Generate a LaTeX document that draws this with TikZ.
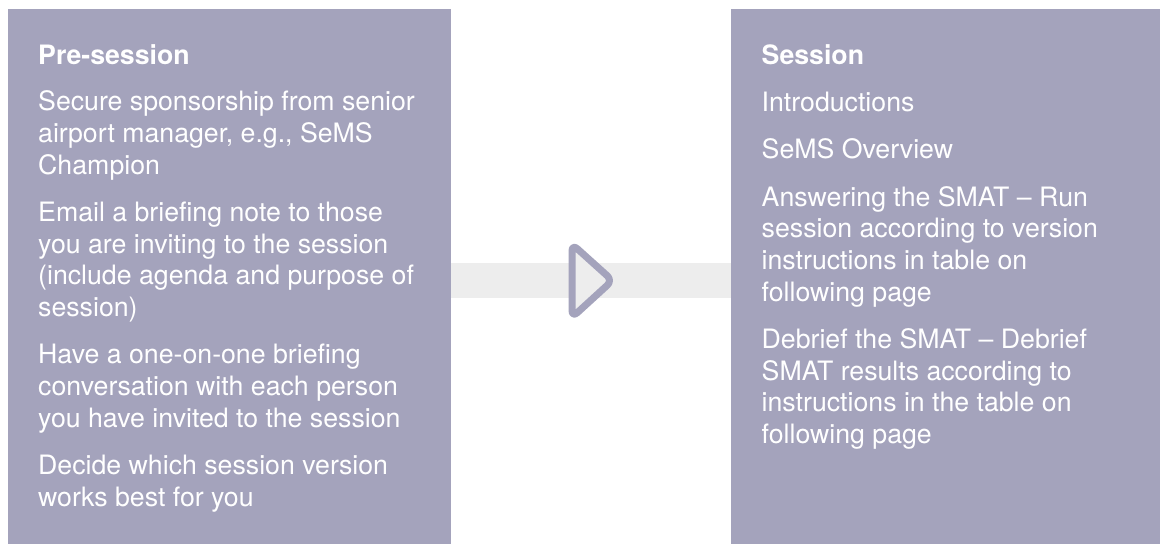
\documentclass[tikz,border=0pt]{standalone}
\usepackage{fontspec}
\setmainfont{TeX Gyre Heros}
\definecolor{panelc}{HTML}{A4A3BC}
\definecolor{bandc}{HTML}{EDEDED}
\definecolor{txtc}{HTML}{FFFFFF}
\newcommand\paralines[1]{\vtop{\halign{##\hfil\cr#1\crcr}}}
\tikzset{
  panel/.style={fill=panelc, draw=none, inner sep=0, anchor=north west},
  bandbox/.style={fill=bandc, draw=none, inner sep=0},
  tri/.style={draw=panelc, fill=bandc, line width=7pt, rounded corners=7pt, line join=round},
  txt/.style={anchor=base west, inner sep=0, text=txtc, font=\fontsize{26.7}{31.6}\selectfont},
  ttl/.style={txt, font=\fontsize{26.7}{31.6}\selectfont\bfseries}
}
\begin{document}
\begin{tikzpicture}[x=1pt,y=-1pt]
\useasboundingbox[fill=white] (0,0) rectangle (1160,548);
% panels
\node[panel, minimum width=443pt, minimum height=535pt] (pre) at (8,9) {};
\node[panel, minimum width=429pt, minimum height=535pt] (ses) at (731,9) {};
% connector band
\node[bandbox, minimum width=280pt, minimum height=34.5pt] (band) at (591,280.5) {};
% chevron
\draw[tri] (572,281) -- (572,244) -- (612.5,280.5) -- (572,317.5) -- cycle;
% left texts
\node[ttl] (pret) at (38,64.3) {Pre-session};
\node[txt] (p1) at (38,111) {\paralines{Secure sponsorship from senior\cr airport manager, e.g., SeMS\cr Champion}};
\node[txt] (p2) at (38,221.6) {\paralines{Email a briefing note to those\cr you are inviting to the session\cr (include agenda and purpose of\cr session)}};
\node[txt] (p3) at (38,363.8) {\paralines{Have a one-on-one briefing\cr conversation with each person\cr you have invited to the session}};
\node[txt] (p4) at (38,474.4) {\paralines{Decide which session version\cr works best for you}};
% right texts
\node[ttl] (sest) at (761.5,64.3) {Session};
\node[txt] (s1) at (761.5,111.5) {Introductions};
\node[txt] (s2) at (761.5,158.9) {SeMS Overview};
\node[txt] (s3) at (761.5,206.3) {\paralines{Answering the SMAT -- Run\cr session according to version\cr instructions in table on\cr following page}};
\node[txt] (s4) at (761.5,348.5) {\paralines{Debrief the SMAT -- Debrief\cr SMAT results according to\cr instructions in the table on\cr following page}};
\end{tikzpicture}
\end{document}
